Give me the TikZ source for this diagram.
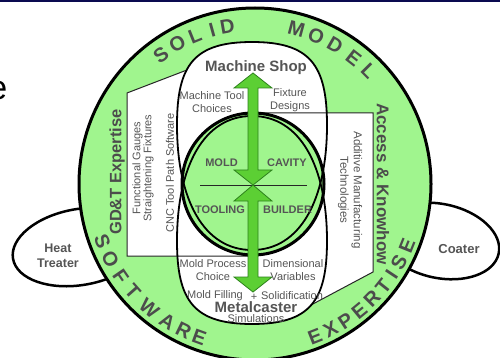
\documentclass[tikz,border=0pt]{standalone}
\usepackage{fontspec}
\setmainfont{Liberation Sans}
\begin{document}
\begin{tikzpicture}[x=1pt,y=-1pt]
\definecolor{ringgreen}{RGB}{160,245,142}
\definecolor{arrowgreen}{RGB}{92,207,52}
\definecolor{arrowedge}{RGB}{45,130,28}
\definecolor{txtgray}{RGB}{85,85,85}
\definecolor{topbar}{RGB}{10,10,80}
\tikzset{
  lbl/.style={text=txtgray, font=\fontsize{11}{12.5}\selectfont, align=center, inner sep=0pt},
  tightlbl/.style={text=txtgray, font=\fontsize{11}{11}\selectfont, align=center, inner sep=0pt},
  blbl/.style={text=txtgray, font=\bfseries\fontsize{11}{12}\selectfont, inner sep=0pt},
  bigbold/.style={text=txtgray, font=\bfseries\fontsize{15}{16}\selectfont, inner sep=0pt},
  sidebold/.style={text=txtgray, font=\bfseries\fontsize{12.5}{15.5}\selectfont, align=center, inner sep=0pt},
  ringletter/.style={text=txtgray!90!black, font=\bfseries\fontsize{20}{20}\selectfont, inner sep=0pt},
  ringword/.style={text=txtgray!90!black, font=\bfseries\fontsize{16.5}{17}\selectfont, inner sep=0pt},
  pilledge/.style={line width=1.8pt, draw=black},
  boxedge/.style={line width=1pt, draw=black!85},
  arrowshape/.style={fill=arrowgreen, draw=arrowedge, line width=0.8pt, line join=miter},
}
% canvas
\path[use as bounding box, fill=white] (0,0) rectangle (500,358);
\fill[topbar] (0,0) rectangle (500,2.5);
\node[anchor=base east, font=\fontsize{34}{34}\selectfont, inner sep=0pt] (frag) at (7.5,100) {e};

% side ellipses
\draw[line width=2.5pt, fill=white, rotate around={10:(80,247)}] (80,247) ellipse [x radius=68, y radius=38];
\draw[line width=2.5pt, fill=white, rotate around={-12:(440,241)}] (440,241) ellipse [x radius=60, y radius=37];

% big ring
\draw[line width=3pt, fill=ringgreen] (255,184) circle [radius=176];

% white regions
\fill[white] (127,93) -- (187,70) -- (190,256) -- (127,256) -- cycle;
\fill[white] (320,113) -- (373,113) -- (373,272) -- (311,305) -- (315,200) -- cycle;
\fill[white] (252,42) .. controls (310,42) and (327,65) .. (327,125)
  .. controls (327,200) and (300,250) .. (252,250)
  .. controls (204,250) and (177,200) .. (177,125)
  .. controls (177,65) and (194,42) .. (252,42) -- cycle;
\fill[white] (252,324) .. controls (310,324) and (327,301) .. (327,241)
  .. controls (327,166) and (300,116) .. (252,116)
  .. controls (204,116) and (177,166) .. (177,241)
  .. controls (177,301) and (194,324) .. (252,324) -- cycle;

% central circle fill
\fill[ringgreen] (253,184) circle [radius=71];

% box edges
\draw[boxedge] (187,70) -- (127,93) -- (127,256) -- (248,256);
\draw[boxedge] (258,113) -- (373,113) -- (373,272) -- (311,305);

% pill outlines
\draw[pilledge] (252,42) .. controls (310,42) and (327,65) .. (327,125)
  .. controls (327,200) and (300,250) .. (252,250)
  .. controls (204,250) and (177,200) .. (177,125)
  .. controls (177,65) and (194,42) .. (252,42) -- cycle;
\draw[pilledge] (252,324) .. controls (310,324) and (327,301) .. (327,241)
  .. controls (327,166) and (300,116) .. (252,116)
  .. controls (204,116) and (177,166) .. (177,241)
  .. controls (177,301) and (194,324) .. (252,324) -- cycle;

% central circle outline
\draw[line width=3pt] (253,184) circle [radius=71];
\draw[line width=0.9pt, draw=black!85] (200,185) -- (307,185);

% arrows
\draw[arrowshape] (253,185) -- (272,170) -- (258,170) -- (258,88) -- (272,88) -- (253,73)
  -- (234,88) -- (248,88) -- (248,170) -- (234,170) -- cycle;
\draw[arrowshape] (253,185) -- (272,201) -- (258,201) -- (258,277) -- (272,277) -- (253,292)
  -- (234,277) -- (248,277) -- (248,201) -- (234,201) -- cycle;

% ring lettering
\foreach \l/\a [count=\i] in {S/126,O/119,L/112,I/105.5,D/100,M/75,O/67.5,D/60,E/52,L/44.7}
  \node[ringletter, rotate=\a-90] (top\i) at ({255+160*cos(\a)},{184-160*sin(\a)}) {\l};
\foreach \l/\a [count=\i] in {S/200.5,O/207.5,F/214.5,T/221.5,W/229.5,A/237.5,R/244,E/250}
  \node[ringletter, rotate=\a+90] (sw\i) at ({255+163*cos(\a)},{184-163*sin(\a)}) {\l};
\foreach \l/\a [count=\i] in {E/291.5,X/297.5,P/303.5,E/309.5,R/315.5,T/321.5,I/326.5,S/331.5,E/338}
  \node[ringletter, rotate=\a+90] (ex\i) at ({255+164*cos(\a)},{184-164*sin(\a)}) {\l};

\node[ringword, rotate=90] (gdt) at (117,172) {GD\&T Expertise};
\node[ringword, font=\bfseries\fontsize{17}{18}\selectfont, rotate=-90] (akh) at (383,184) {Access \& Knowhow};

% inner labels
\node[bigbold] (machineshop) at (256,68) {Machine Shop};
\node[lbl] (mtc) at (212,102) {Machine Tool\\Choices};
\node[lbl] (fd) at (290,100) {Fixture\\Designs};
\node[blbl] (mold) at (221.5,163) {MOLD};
\node[blbl] (cavity) at (287,163) {CAVITY};
\node[blbl] (tooling) at (220,210) {TOOLING};
\node[blbl] (builder) at (287.5,210) {BUILDER};
\node[lbl] (mpc) at (213,270) {Mold Process\\Choice};
\node[lbl] (dv) at (293,270) {Dimensional\\Variables};
\node[lbl] (mf) at (215,296) {Mold Filling};
\node[lbl] (plus) at (254,297) {+};
\node[lbl] (sol) at (292,296) {Solidification};
\node[bigbold] (mc) at (256,307) {Metalcaster};
\node[lbl] (sim) at (256,319) {Simulations};

\node[tightlbl, rotate=90] (fg) at (143,168) {Functional Gauges\\Straightening Fixtures};
\node[lbl, rotate=90] (cnc) at (170,173) {CNC Tool Path Software};
\node[lbl, font=\fontsize{11.5}{13.5}\selectfont, rotate=-90] (amt) at (350,190) {Additive Manufacturing\\Technologies};

\node[sidebold] (ht) at (58,256) {Heat\\Treater};
\node[sidebold, font=\bfseries\fontsize{13}{15}\selectfont] (co) at (459,249) {Coater};
\end{tikzpicture}
\end{document}
